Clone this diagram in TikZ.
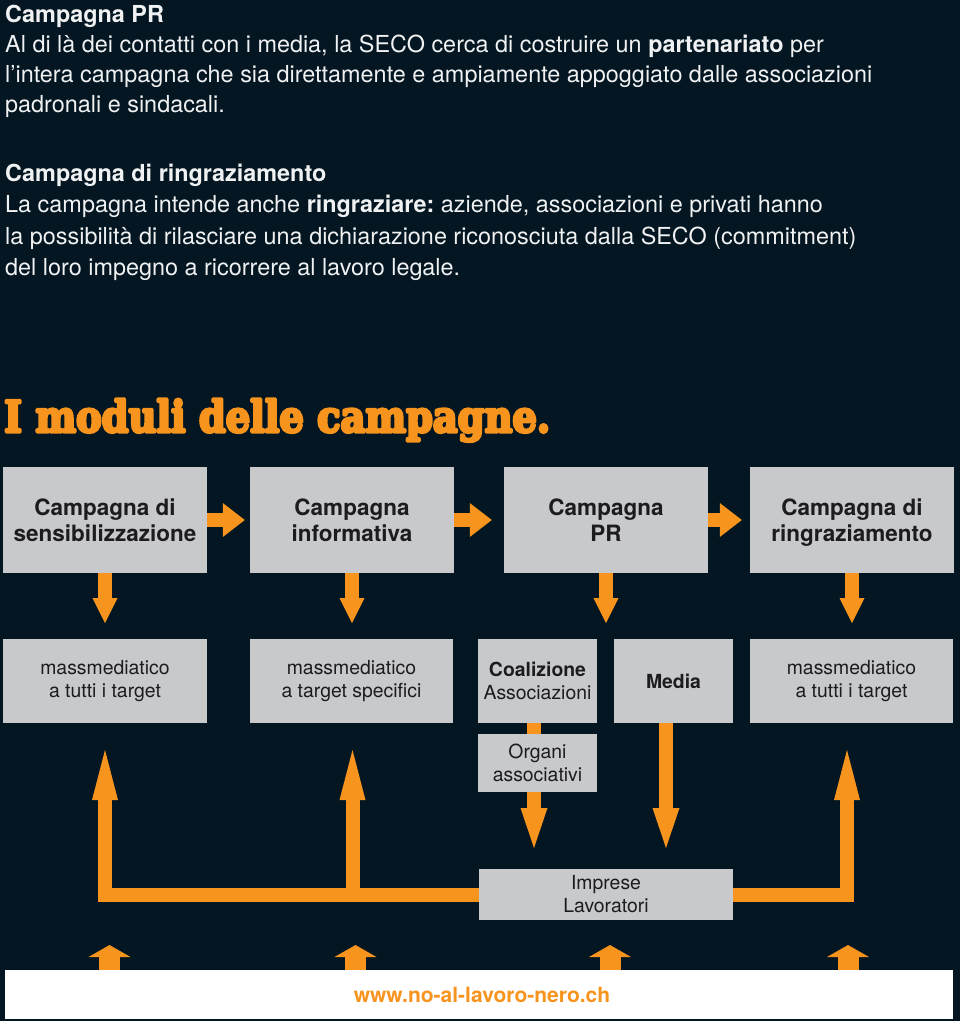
\documentclass[tikz,border=0pt]{standalone}
\usepackage{fontspec}
\setmainfont{TeX Gyre Heros}
\newfontfamily\slabfont{DejaVu Serif}
\usetikzlibrary{arrows.meta,calc}
\definecolor{bg}{RGB}{3,22,33}
\definecolor{org}{RGB}{247,148,30}
\definecolor{boxgray}{RGB}{200,201,203}
\definecolor{ink}{RGB}{28,28,30}
\definecolor{wtxt}{RGB}{240,241,242}
\newcommand\heavytext[1]{\special{pdf:literal direct 0.969 0.580 0.118 RG 2 Tr 0.7 w 1 j}#1\special{pdf:literal direct 0 Tr}}
\newcommand\nodesc[1]{\raisebox{0pt}[\height][0pt]{#1}}
\begin{document}
\frenchspacing
\begin{tikzpicture}[x=1pt,y=-1pt,
  txt/.style={anchor=base west, inner sep=0, text=wtxt, font=\fontsize{23.4}{28}\selectfont},
  txtb/.style={txt, font=\bfseries\fontsize{23.4}{28}\selectfont},
  box/.style={fill=boxgray, inner sep=0, text=ink, align=center},
  bigbox/.style={box, minimum width=204pt, minimum height=106pt, font=\bfseries\fontsize{22.5}{26}\selectfont},
  smallbox/.style={box, minimum height=84pt, font=\fontsize{19.4}{23.5}\selectfont},
  flow/.style={draw=org, line width=14pt, line join=miter},
  harrow/.style={flow, -{Triangle[width=34pt,length=22pt,line width=0pt]}},
  darrow/.style={flow, -{Triangle[width=25pt,length=25pt,line width=0pt]}},
  larrow/.style={flow, -{Triangle[width=27pt,length=40pt,line width=0pt]}},
  uptip/.style={-{Triangle[width=26pt,length=50pt,line width=0pt]}},
  uptipstart/.style={{Triangle[width=26pt,length=50pt,line width=0pt]}-},
  sarrow/.style={draw=org, line width=21pt, -{Triangle[width=42pt,length=12pt,line width=0pt]}}
]
\useasboundingbox (0,0) rectangle (960,1021);
\fill[bg] (0,0) rectangle (960,1021);

% top text
\node[txtb] (t1) at (5,22) {Campagna PR};
\node[txt] (t2) at (5,52) {Al di là dei contatti con i media, la SECO cerca di costruire un \textbf{partenariato} per};
\node[txt] (t3) at (5,82) {l’intera campagna che sia direttamente e ampiamente appoggiato dalle associazioni};
\node[txt] (t4) at (5,112) {padronali e sindacali.};

\node[txtb] (t5) at (5,181) {Campagna di ringraziamento};
\node[txt] (t6) at (5,212) {La campagna intende anche \textbf{ringraziare:} aziende, associazioni e privati hanno};
\node[txt] (t7) at (5,244) {la possibilità di rilasciare una dichiarazione riconosciuta dalla SECO (commitment)};
\node[txt] (t8) at (5,275) {del loro impegno a ricorrere al lavoro legale.};

% title
\node[anchor=base west, inner sep=0, text=org] (title) at (4,432)
  {\resizebox{546pt}{33pt}{\slabfont\bfseries\heavytext{I moduli delle campagne.}}};

% row 1
\node[bigbox] (b1) at (105,520) {Campagna di\\sensibilizzazione};
\node[bigbox] (b2) at (352,520) {Campagna\\informativa};
\node[bigbox] (b3) at (606,520) {Campagna\\PR};
\node[bigbox] (b4) at (852,520) {Campagna di\\\nodesc{ringraziamento}};

\draw[harrow] (b1.east) -- ([xshift=-5pt]b2.west);
\draw[harrow] (b2.east) -- ([xshift=-12pt]b3.west);
\draw[harrow] (b3.east) -- ([xshift=-8pt]b4.west);

% row 2
\node[smallbox, minimum width=204pt] (r1) at (105,681) {massmediatico\\a tutti i target};
\node[smallbox, minimum width=203pt] (r2) at (351.5,681) {massmediatico\\a target specifici};
\node[smallbox, minimum width=119pt] (r3) at (537.5,681) {\textbf{Coalizione}\\Associazioni};
\node[smallbox, minimum width=119pt] (r4) at (673.5,681) {\textbf{Media}};
\node[smallbox, minimum width=203pt] (r5) at (851.5,681) {massmediatico\\a tutti i target};

\draw[darrow] (b1.south) -- ++(0,50);
\draw[darrow] (b2.south) -- ++(0,50);
\draw[darrow] (b3.south) -- ++(0,50);
\draw[darrow] (b4.south) -- ++(0,50);

\node[box, minimum width=119pt, minimum height=58pt, font=\fontsize{19.4}{23}\selectfont] (og) at (537.5,763) {Organi\\associativi};
\draw[flow] ([xshift=-3.5pt]r3.south) -- ([xshift=-3.5pt]og.north);

\node[box, minimum width=254pt, minimum height=51pt, font=\fontsize{19.4}{23}\selectfont] (imp) at (606,894.5) {Imprese\\Lavoratori};

\coordinate (oT) at (534,848);
\coordinate (mT) at (666,848);
\draw[larrow] ([xshift=-3.5pt]og.south) -- (oT);
\draw[larrow] ([xshift=-7.5pt]r4.south) -- (mT);

% bar and up arrows
\coordinate (uA) at (105,750);
\coordinate (cA) at (105,894.5);
\coordinate (uB) at (352.5,750);
\coordinate (cB) at (352.5,894.5);
\coordinate (uD) at (847,750);
\coordinate (cD) at (847,894.5);
\draw[flow, uptipstart] (uA) -- (cA) -- (imp.west);
\draw[flow, uptip] (cB) -- (uB);
\draw[flow, uptip] (imp.east) -- (cD) -- (uD);

% bottom
\node[fill=white, minimum width=948pt, minimum height=49pt, inner sep=0, text=org,
  font=\bfseries\fontsize{21}{24}\selectfont] (web) at (479,994.5) {\hspace*{6pt}www.no-al-lavoro-nero.ch};
\coordinate (wA) at (109.5,970); \coordinate (sA) at (109.5,945);
\coordinate (wB) at (355.5,970); \coordinate (sB) at (355.5,945);
\coordinate (wC) at (610,970);   \coordinate (sC) at (610,945);
\coordinate (wD) at (848,970);   \coordinate (sD) at (848,945);
\draw[sarrow] (wA) -- (sA);
\draw[sarrow] (wB) -- (sB);
\draw[sarrow] (wC) -- (sC);
\draw[sarrow] (wD) -- (sD);
\end{tikzpicture}
\end{document}
